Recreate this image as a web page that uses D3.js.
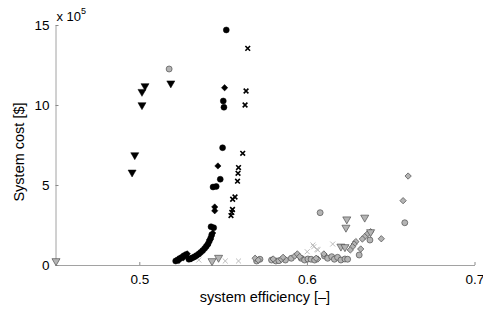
<!DOCTYPE html>
<html lang="en">
<head>
    <meta charset="UTF-8">
    <title>System cost vs efficiency</title>
    <script src="https://cdn.jsdelivr.net/npm/d3@7"></script>
    <style>
        html, body {
            margin: 0;
            background: white;
            font-family: "Liberation Sans", Arial, sans-serif;
        }
    </style>
</head>
<body>
    <div id="vis"></div>
    <script>
        // [efficiency, cost in 1e5 $]
        var blackTriangles = [[0.4957,5.79],[0.4973,6.875],[0.5016,10.0],[0.5016,10.83],[0.5034,11.19],[0.5188,11.36]];
        var blackCircles = [[0.5519,14.69],[0.5501,10.25],[0.5505,9.86],[0.5497,7.33],[0.5483,5.36],[0.5440,4.875],[0.5459,4.91],
            [0.5428,2.39],[0.5444,2.33],
            [0.5217,0.25],[0.5228,0.31],[0.5240,0.40],[0.5254,0.48],[0.5266,0.58],[0.5280,0.66],
            [0.5296,0.36],[0.5306,0.40],[0.5318,0.46],[0.5330,0.52],[0.5342,0.60],[0.5355,0.69],[0.5366,0.79],
            [0.5378,0.90],[0.5390,1.04],[0.5400,1.17],[0.5410,1.32],[0.5418,1.50],[0.5426,1.68],[0.5432,1.88]];
        var blackDiamonds = [[0.5509,11.08],[0.5469,6.19],[0.5450,3.625],[0.5450,3.39],
            [0.5236,0.28],[0.5262,0.44],[0.5286,0.70],[0.5310,0.38],[0.5335,0.55],[0.5360,0.74],[0.5384,0.97],
            [0.5405,1.25],[0.5422,1.58],[0.5438,2.00]];
        var blackCrosses = [[0.5647,13.54],[0.5637,10.875],[0.5631,10.0],[0.5617,6.98],[0.5592,6.09],[0.5589,5.73],
            [0.5586,5.24],[0.5571,4.25],[0.5557,4.11],[0.5556,3.47],[0.5552,3.29],[0.5547,3.09]];

        var grayTriangles = [[0.4503,0.25],[0.5434,0.25],[0.5473,0.46],[0.6238,2.86],[0.6233,2.34],[0.6345,2.97],
            [0.6203,1.16],[0.6227,1.125],[0.6380,2.06]];
        var grayCircles = [[0.5178,12.25],[0.6079,3.27],[0.6584,2.64],[0.6376,1.56],[0.6312,0.625],
            [0.5700,0.25],[0.5720,0.36],[0.5789,0.31],[0.5815,0.25],[0.5833,0.27],[0.5872,0.31],[0.5907,0.42],
            [0.5966,0.42],[0.5986,0.31],[0.6006,0.375],[0.6025,0.36],[0.6046,0.31],[0.6105,0.56],[0.6124,0.42],
            [0.6148,0.52],[0.6164,0.36],[0.6183,0.48],[0.6203,0.31],[0.6227,0.375],[0.6243,0.36]];
        var grayDiamonds = [[0.6604,5.56],[0.6574,4.02],[0.6444,1.64],[0.6380,2.08],[0.6361,1.94],[0.6345,1.77],
            [0.6331,1.625],[0.6292,1.46],[0.6282,1.31],[0.6272,1.14],[0.6259,0.94],[0.6321,1.0],[0.6101,0.69],
            [0.5691,0.42],[0.5710,0.31],[0.5799,0.375],[0.5848,0.36],[0.5858,0.48],[0.5927,0.56],[0.5943,0.69],
            [0.5957,0.52],[0.6065,0.375],[0.6055,0.42]];
        var grayCrosses = [[0.5355,0.31],[0.5513,0.25],[0.5592,0.25],[0.6041,1.14],[0.6061,0.98],[0.6002,0.83],
            [0.6036,1.25],[0.6065,0.94],[0.6154,1.31]];

        var xTicks = [0.5, 0.6, 0.7];
        var yTicks = [0, 5, 10, 15];

        var width = 483, height = 311;
        var margin = {top: 25, right: 8.5, bottom: 46, left: 55.5};

        var svg = d3.select('#vis')
            .append('svg')
                .attr('width', width)
                .attr('height', height);

        var x = d3.scaleLinear()
            .domain([0.45, 0.7])
            .range([margin.left, width - margin.right]);

        var y = d3.scaleLinear()
            .domain([0, 15])
            .range([height - margin.bottom, margin.top]);

        var axisColor = '#8a8a8a';

        var xAxis = svg.append('g')
            .attr('transform', 'translate(0,' + y(0) + ')')
            .call(d3.axisBottom(x).tickValues(xTicks).tickSizeInner(-3).tickSizeOuter(0).tickPadding(9).tickFormat(d3.format('.1f')));

        var yAxis = svg.append('g')
            .attr('transform', 'translate(' + x(0.45) + ',0)')
            .call(d3.axisLeft(y).tickValues(yTicks).tickSizeInner(-3).tickSizeOuter(0).tickPadding(6));

        [xAxis, yAxis].forEach(function(g){
            g.select('.domain').attr('stroke', axisColor).attr('stroke-width', 0.8);
            g.selectAll('.tick line').attr('stroke', axisColor);
            g.selectAll('.tick text')
                .attr('fill', 'black')
                .attr('font-size', '13.5px')
                .attr('font-family', '"Liberation Sans", Arial, sans-serif');
        });

        // exponent label
        var expo = svg.append('text')
            .attr('x', x(0.45) + 1)
            .attr('y', 21)
            .attr('font-size', '13px')
            .text('x 10');
        expo.append('tspan')
            .attr('dy', -7)
            .attr('font-size', '9px')
            .text('5');

        svg.append('text')
            .attr('x', 265)
            .attr('y', 302)
            .attr('text-anchor', 'middle')
            .attr('font-size', '14.5px')
            .text('system efficiency [–]');

        svg.append('text')
            .attr('transform', 'translate(24,' + 152 + ')rotate(-90)')
            .attr('text-anchor', 'middle')
            .attr('font-size', '14.5px')
            .text('System cost [$]');

        var plot = svg.append('g');

        function drawSeries(data, shape, size, rotate, fill, stroke, sw){
            plot.selectAll(null)
                .data(data)
                .enter()
                .append('path')
                .attr('d', d3.symbol().type(shape).size(size))
                .attr('transform', function(d){
                    return 'translate(' + x(d[0]) + ',' + y(d[1]) + ')rotate(' + rotate + ')';
                })
                .attr('fill', fill)
                .attr('stroke', stroke)
                .attr('stroke-width', sw);
        }

        // gray series first, black on top
        drawSeries(grayCrosses, d3.symbolX, 18, 0, 'none', '#bdbdbd', 1);
        drawSeries(grayCircles, d3.symbolCircle, 28, 0, '#b4b4b4', '#505050', 0.7);
        drawSeries(grayDiamonds, d3.symbolSquare, 20, 45, '#b4b4b4', '#505050', 0.7);
        drawSeries(grayTriangles, d3.symbolTriangle, 28, 180, '#b4b4b4', '#505050', 0.7);

        drawSeries(blackCircles, d3.symbolCircle, 28, 0, 'black', 'black', 0.5);
        drawSeries(blackDiamonds, d3.symbolSquare, 20, 45, 'black', 'black', 0.5);
        drawSeries(blackTriangles, d3.symbolTriangle, 28, 180, 'black', 'black', 0.5);
        drawSeries(blackCrosses, d3.symbolX, 16, 0, 'none', 'black', 1.6);
    </script>
</body>
</html>
